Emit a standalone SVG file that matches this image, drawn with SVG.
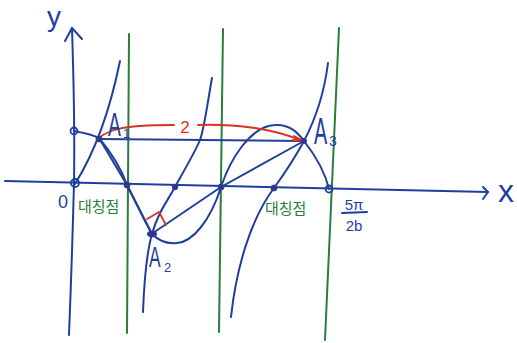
<svg xmlns="http://www.w3.org/2000/svg" width="517" height="343" viewBox="0 0 517 343">
<style>
.b{fill:none;stroke:#1f3f9e;stroke-width:2;stroke-linecap:round;stroke-linejoin:round}
.g{fill:none;stroke:#2b7d3c;stroke-width:2;stroke-linecap:round}
.r{fill:none;stroke:#d8331f;stroke-width:1.8;stroke-linecap:round;stroke-linejoin:round}
.dot{fill:#3b2f8c;stroke:#2a3f9a;stroke-width:1}
.ring{fill:none;stroke:#1f3f9e;stroke-width:1.8}
.tb{fill:#1f3f9e;font-family:"Liberation Sans",Arial,sans-serif}
.tg{fill:#2b7d3c;font-family:"Noto Sans CJK KR","Noto Sans CJK SC",sans-serif;font-size:15px}
</style>
<rect width="517" height="343" fill="#ffffff"/>
<g id="asymptotes">
<path class="g" d="M129,34 L127,333"/>
<path class="g" d="M223,29 L219,332"/>
<path class="g" d="M339,28 L325,340"/>
</g>
<g id="axes">
<path class="b" d="M72,28 Q75,120 74,183 Q72,260 69,335"/>
<path class="b" d="M65,41 L72,28 L82,39"/>
<path class="b" d="M5,181 Q250,187 488,192"/>
<path class="b" d="M483,187 L488,192 L483,199"/>
</g>
<g id="connectors">
<path class="b" d="M75,184 C90,160 108,120 120,61"/>
<path class="b" d="M74,131 C85,133 93,135 99,138 C109,150 121,168 127,185 C135,201 145,222 152,234 C160,242 168,244 177,243 C192,242 210,222 221,187 C230,160 250,126 275,125 C290,124 298,133 304,141 C315,155 325,172 329,189"/>
<path class="b" d="M99,138 L127,185 L152,234"/>
<path class="b" d="M153,233 L221,187 L304,141"/>
<path class="b" d="M99,139 L304,141"/>
<path class="b" d="M143,312 C144,285 146,255 152,234 S165,205 175,187 S196,150 200,140 S208,100 212,78"/>
<path class="b" d="M231,317 C236,270 250,220 274,188 C290,166 298,152 304,141 C315,120 324,95 328,63"/>
<path class="r" d="M100,137 C104,134 110,131 118,129 C130,126 155,125 174,125"/>
<path class="r" d="M198,125 C220,124 240,126 255,128 C270,130 285,134 303,141"/>
<path class="r" d="M294,136 L303,141 L293,140"/>
<path class="r" d="M147,219 L159,212 L166,225"/>
</g>
<g id="points">
<circle class="ring" cx="74" cy="131" r="3.5"/>
<circle class="ring" cx="75" cy="183" r="4"/>
<circle class="ring" cx="329" cy="189" r="3.5"/>
<circle class="dot" cx="99" cy="139" r="3"/>
<circle class="dot" cx="127" cy="185" r="3"/>
<circle class="dot" cx="175" cy="187" r="2.8"/>
<circle class="dot" cx="221" cy="187" r="3"/>
<circle class="dot" cx="274" cy="188" r="3"/>
<ellipse class="dot" cx="152" cy="234" rx="4.5" ry="3"/>
<circle class="dot" cx="304" cy="141" r="2.5"/>
</g>
<g id="labels">
<text class="tb" x="54" y="26" font-size="28" text-anchor="middle">y</text>
<text class="tb" x="498" y="202" font-size="32">x</text>
<text class="tb" x="63" y="208" font-size="18" text-anchor="middle">0</text>
<text class="tb" transform="translate(108,136) scale(0.57,1)" font-size="34">A</text>
<text class="tb" x="123" y="138" font-size="13">1</text>
<text class="tb" transform="translate(314,144) scale(0.55,1)" font-size="36">A</text>
<text class="tb" x="329" y="146" font-size="14">3</text>
<text class="tb" transform="translate(149,267) scale(0.6,1)" font-size="29">A</text>
<text class="tb" x="164" y="272" font-size="13">2</text>
<text x="185" y="133" font-size="17" fill="#d8331f" font-family="Liberation Sans,Arial,sans-serif" text-anchor="middle">2</text>
<text class="tg" x="78" y="212">대칭점</text>
<text class="tg" x="265" y="214">대칭점</text>
<text class="tb" x="354" y="210" font-size="15" text-anchor="middle">5π</text>
<path class="b" d="M342,213 L367,212" stroke-width="1.6"/>
<text class="tb" x="354" y="231" font-size="15" text-anchor="middle">2b</text>
</g>
</svg>
